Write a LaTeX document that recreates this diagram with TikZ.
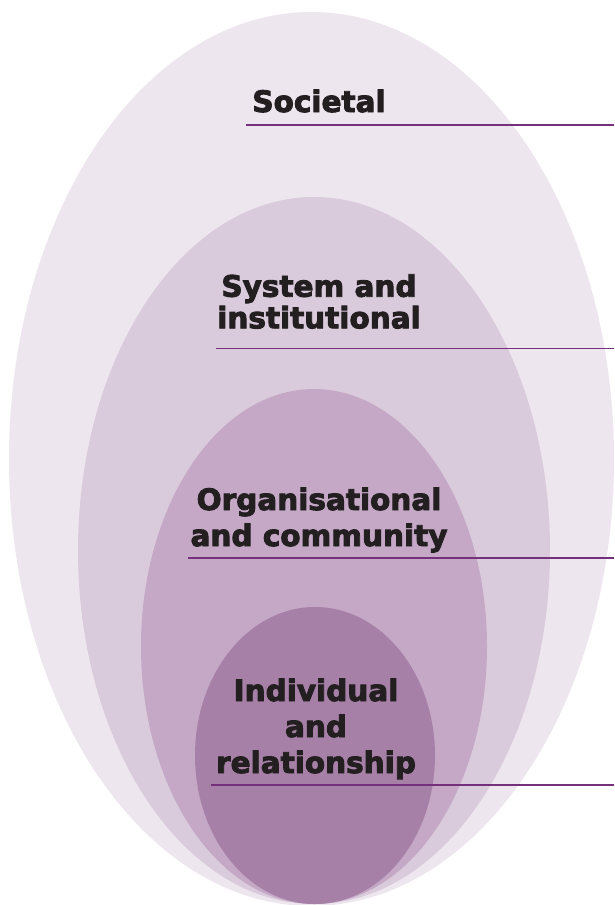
\documentclass[tikz,border=0pt]{standalone}
\usepackage{fontspec}
\setmainfont{DejaVu Sans}
\newfontfamily\heavyfont{DejaVu Sans Bold}[FakeBold=3]
\definecolor{layerA}{HTML}{EEE6EE}
\definecolor{layerB}{HTML}{DACBDC}
\definecolor{layerC}{HTML}{C4A8C6}
\definecolor{layerD}{HTML}{A780A8}
\definecolor{leadcol}{HTML}{74307A}
\definecolor{txtcol}{HTML}{231F20}
\begin{document}
\begin{tikzpicture}[x=1pt,y=-1pt,
  label/.style={font=\fontsize{29.5}{36}\selectfont\heavyfont, text=txtcol, align=center, inner sep=0pt, anchor=base},
  leader/.style={draw=leadcol, line width=1.2pt}]
\useasboundingbox (0,0) rectangle (614,905);
% nested ellipses
\fill[layerA] (311.5,459) ellipse [x radius=302.5pt, y radius=447pt];
\fill[layerB] (314,550.5) ellipse [x radius=236pt, y radius=353.5pt];
\fill[layerC] (314,646.5) ellipse [x radius=173pt, y radius=257.5pt];
\fill[layerD] (315,755.5) ellipse [x radius=120pt, y radius=148.5pt];
% labels (base anchor = last line's baseline)
\node[label] (soc) at (319,112) {Societal};
\node[label, font=\fontsize{29.5}{31.6}\selectfont\heavyfont] (sys) at (319,328.3) {System and\\institutional};
\node[label] (org) at (319,546) {Organisational\\and community};
\node[label] (ind) at (316,773) {Individual\\and\\relationship};
% leader lines
\coordinate (s1) at (246,125);   \coordinate (e1) at (614,125);
\coordinate (s2) at (216,348.5); \coordinate (e2) at (614,348.5);
\coordinate (s3) at (188,558);   \coordinate (e3) at (614,558);
\coordinate (s4) at (211,785);   \coordinate (e4) at (614,785);
\draw[leader] (s1) -- (e1);
\draw[leader] (s2) -- (e2);
\draw[leader] (s3) -- (e3);
\draw[leader] (s4) -- (e4);
\end{tikzpicture}
\end{document}
